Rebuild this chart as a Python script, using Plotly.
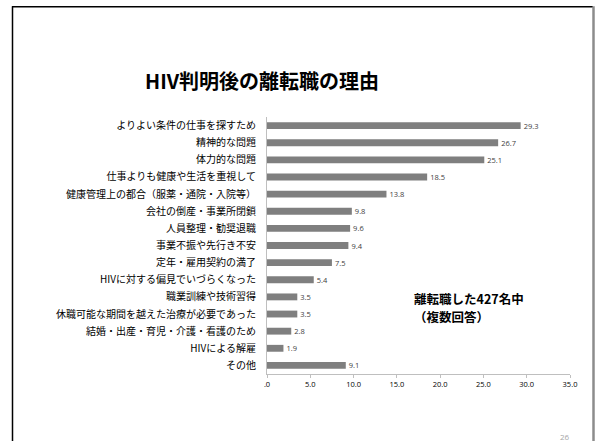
import plotly.graph_objects as go

# Reasons for leaving / changing jobs after HIV diagnosis (% of 427 respondents, multiple answers)
reasons = [
    "よりよい条件の仕事を探すため",
    "精神的な問題",
    "体力的な問題",
    "仕事よりも健康や生活を重視して",
    "健康管理上の都合（服薬・通院・入院等）",
    "会社の倒産・事業所閉鎖",
    "人員整理・勧奨退職",
    "事業不振や先行き不安",
    "定年・雇用契約の満了",
    "HIVに対する偏見でいづらくなった",
    "職業訓練や技術習得",
    "休職可能な期間を越えた治療が必要であった",
    "結婚・出産・育児・介護・看護のため",
    "HIVによる解雇",
    "その他",
]
percent = [29.3, 26.7, 25.1, 18.5, 13.8, 9.8, 9.6, 9.4, 7.5, 5.4, 3.5, 3.5, 2.8, 1.9, 9.1]

tick_values = [0, 5, 10, 15, 20, 25, 30, 35]
tick_labels = [".0", "5.0", "10.0", "15.0", "20.0", "25.0", "30.0", "35.0"]

W, H = 596, 441
PL, PR, PT, PB = 267, 570, 117, 374.5  # plot area in pixels

def px_x(x):
    return (x - PL) / (PR - PL)

def px_y(y):
    return (PB - y) / (PB - PT)

jp_font = "Noto Sans CJK JP"

fig = go.Figure(
    go.Bar(
        x=percent,
        y=reasons,
        orientation="h",
        marker=dict(color="#7f7f7f", line=dict(width=0)),
        text=percent,
        texttemplate="%{x:.1f}",
        textposition="outside",
        textfont=dict(family="Open Sans", size=7.5, color="#404040"),
        cliponaxis=False,
    )
)

fig.update_layout(
    width=W,
    height=H,
    margin=dict(l=PL, r=W - PR, t=PT, b=H - PB),
    paper_bgcolor="white",
    plot_bgcolor="white",
    showlegend=False,
    bargap=0.6,
    uniformtext=dict(minsize=7.5, mode="show"),
    font=dict(family=jp_font, color="#000000"),
)

fig.update_xaxes(
    range=[0, 35],
    tickvals=tick_values,
    ticktext=tick_labels,
    tickfont=dict(family="Open Sans", size=7.5, color="#000000"),
    showgrid=False,
    zeroline=False,
    showline=True,
    linecolor="#bfbfbf",
    linewidth=1,
    ticks="outside",
    ticklen=3,
    tickcolor="#bfbfbf",
)

fig.update_yaxes(
    autorange="reversed",
    tickfont=dict(family=jp_font, size=10, color="#000000"),
    showgrid=False,
    zeroline=False,
    showline=True,
    linecolor="#bfbfbf",
    linewidth=1,
    ticks="",
    ticklabelstandoff=8,
)

# Slide frame
frame = [
    dict(x0=px_x(12.5), x1=px_x(12.5), y0=px_y(6), y1=px_y(445), color="#000000", width=1.5),
    dict(x0=px_x(12), x1=px_x(593), y0=px_y(6.5), y1=px_y(6.5), color="#000000", width=1.5),
    dict(x0=px_x(593.5), x1=px_x(593.5), y0=px_y(6), y1=px_y(445), color="#8c8c8c", width=2.5),
]
for f in frame:
    fig.add_shape(
        type="line", xref="paper", yref="paper",
        x0=f["x0"], x1=f["x1"], y0=f["y0"], y1=f["y1"],
        line=dict(color=f["color"], width=f["width"]),
    )

fig.add_annotation(
    text="<b>HIV判明後の離転職の理由</b>",
    xref="paper", yref="paper", x=px_x(262), y=px_y(80),
    xanchor="center", yanchor="middle", showarrow=False,
    font=dict(family=jp_font, size=20, color="#000000"),
)

# Respondent note, two lines
note_lines = ["離転職した427名中", "（複数回答）"]
for i, line in enumerate(note_lines):
    fig.add_annotation(
        text=f"<b>{line}</b>",
        xref="paper", yref="paper", x=px_x(413), y=px_y(299 + 18 * i),
        xanchor="left", yanchor="middle", align="left", showarrow=False,
        borderpad=0,
        font=dict(family=jp_font, size=12.5, color="#000000"),
    )

fig.add_annotation(
    text="26",
    xref="paper", yref="paper", x=px_x(565), y=px_y(437),
    xanchor="center", yanchor="middle", showarrow=False,
    font=dict(family="Open Sans", size=8, color="#a6a6a6"),
)

fig.write_html("out.html")
